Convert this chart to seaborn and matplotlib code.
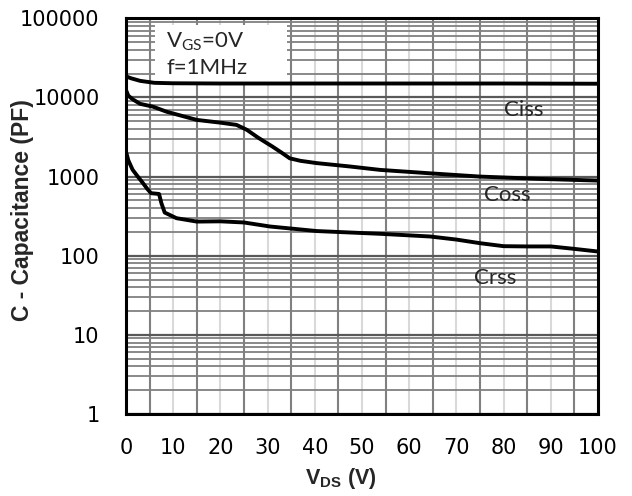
import matplotlib
matplotlib.use("Agg")
import matplotlib.pyplot as plt
import matplotlib.ticker as mticker
from matplotlib.patches import Rectangle
import seaborn as sns
import pandas as pd
import numpy as np

# ---- data ----
ciss_vds = [0, 1, 3, 6, 10, 20, 30, 40, 50, 60, 70, 80, 90, 100]
ciss_val = [18500, 17500, 16200, 15300, 15100, 15000, 15000, 15000, 15000, 15000, 15000, 15000, 14950, 14900]

coss_vds = [0, 0.5, 1.5, 3, 5.7, 8.6, 15, 20, 23.4, 25.6, 28, 31, 33, 34.7, 37, 40.4, 47.5, 53.8, 64.4, 75, 87.7, 100]
coss_val = [12400, 10500, 9400, 8300, 7650, 6600, 5200, 4800, 4500, 3900, 3100, 2400, 2000, 1700, 1580, 1480, 1340, 1215, 1100, 1000, 935, 890]

crss_vds = [0, 0.5, 1.4, 2.5, 3.6, 4.5, 5.3, 7, 7.5, 8.2, 10.7, 15, 20, 25, 30.5, 40.4, 54, 64.4, 70, 75, 80, 85, 90, 95, 100]
crss_val = [2070, 1600, 1220, 1000, 826, 700, 617, 603, 461, 351, 298, 270, 272, 263, 234, 205, 189, 175, 160, 144, 132, 131, 131, 122, 113]

series_names = ["Ciss", "Coss", "Crss"]
label_x = [84.3, 80.8, 78.2]
label_y = [6950, 590, 52]

x_ticks = [0, 10, 20, 30, 40, 50, 60, 70, 80, 90, 100]
y_ticks = [1, 10, 100, 1000, 10000, 100000]
y_tick_labels = ["1", "10", "100", "1000", "10000", "100000"]

# ---- build long table ----
frames = []
for name, xs, ys in zip(series_names, [ciss_vds, coss_vds, crss_vds], [ciss_val, coss_val, crss_val]):
    frames.append(pd.DataFrame({"VDS": xs, "C": ys, "series": name}))
df = pd.concat(frames, ignore_index=True)

sns.set_style("white")
plt.rcParams['font.family'] = ['DejaVu Sans']
plt.rcParams['mathtext.fontset'] = 'custom'
plt.rcParams['mathtext.rm'] = 'Lato'
plt.rcParams['mathtext.bf'] = 'Liberation Sans:bold'

fig = plt.figure(figsize=(6.32, 4.96), dpi=100)
ax = fig.add_axes([126/632, 82/496, 472/632, 395.7/496])

sns.lineplot(data=df, x="VDS", y="C", hue="series", palette=["black"] * 3,
             estimator=None, sort=False, linewidth=2.8, legend=False, ax=ax, zorder=5)

ax.set_yscale("log")
ax.set_xlim(0, 100)
ax.set_ylim(1, 100000)

ax.set_xticks(x_ticks)
ax.set_xticks([5, 15, 25, 35, 45, 55, 65, 75, 85, 95], minor=True)
ax.set_yticks(y_ticks)
ax.set_yticklabels(y_tick_labels)
ax.yaxis.set_minor_locator(mticker.LogLocator(base=10, subs=np.arange(2, 10)))
ax.yaxis.set_minor_formatter(mticker.NullFormatter())

ax.grid(True, which="major", axis="x", color="#d9d9d9", linewidth=1.5, zorder=1)
ax.grid(True, which="minor", axis="x", color="#808080", linewidth=1.5, zorder=1)
ax.grid(True, which="major", axis="y", color="#595959", linewidth=1.6, zorder=1)
ax.grid(True, which="minor", axis="y", color="#808080", linewidth=1.3, zorder=1)
ax.set_axisbelow(True)

ax.tick_params(axis="both", which="both", length=0)
ax.tick_params(axis="x", which="major", pad=17, labelsize=15, colors="black")
ax.tick_params(axis="y", which="major", pad=19, labelsize=15, colors="black")

for sp in ax.spines.values():
    sp.set_linewidth(2.2)
    sp.set_color("black")
    sp.set_zorder(6)

ax.set_xlabel("V$_{\\mathbf{DS}}$ (V)", fontsize=15.5, fontweight="bold",
              family="Liberation Sans")
ax.xaxis.set_label_coords(0.455, -0.132)
ax.set_ylabel("C - Capacitance (PF)", fontsize=16.5, fontweight="bold",
              family="Liberation Sans")
ax.yaxis.set_label_coords(-0.195, 0.515)

for name, lx, ly in zip(series_names, label_x, label_y):
    ax.text(lx, ly, name, fontsize=16, family="Lato", ha="center", va="center", zorder=7)

ax.add_patch(Rectangle((0.061, 0.838), 0.28, 0.144, transform=ax.transAxes,
                       facecolor="white", edgecolor="none", zorder=3))
ax.text(0.085, 0.97, "V$_{\\mathregular{GS}}$=0V\nf=1MHz", transform=ax.transAxes,
        fontsize=16, family="Lato", ha="left", va="top", linespacing=1.3, zorder=4)

fig.savefig("out.png", dpi=100)
